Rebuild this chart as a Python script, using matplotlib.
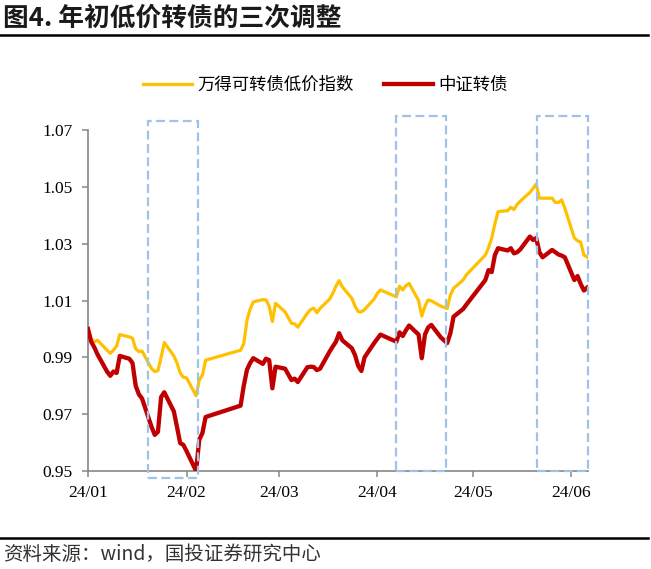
import pandas as pd
import matplotlib
matplotlib.use('Agg')
import matplotlib.pyplot as plt
import matplotlib.dates as mdates
from matplotlib.patches import Rectangle
from matplotlib.lines import Line2D

# ===========================
# --- 数据区域 ---
# ===========================
DATES = [
    '2024-01-02', '2024-01-03', '2024-01-04', '2024-01-05', '2024-01-08', '2024-01-09',
    '2024-01-10', '2024-01-11', '2024-01-12', '2024-01-15', '2024-01-16', '2024-01-17',
    '2024-01-18', '2024-01-19', '2024-01-22', '2024-01-23', '2024-01-24', '2024-01-25',
    '2024-01-26', '2024-01-29', '2024-01-30', '2024-01-31', '2024-02-01', '2024-02-02',
    '2024-02-05', '2024-02-06', '2024-02-07', '2024-02-08', '2024-02-19', '2024-02-20',
    '2024-02-21', '2024-02-22', '2024-02-23', '2024-02-26', '2024-02-27', '2024-02-28',
    '2024-02-29', '2024-03-01', '2024-03-04', '2024-03-05', '2024-03-06', '2024-03-07',
    '2024-03-08', '2024-03-11', '2024-03-12', '2024-03-13', '2024-03-14', '2024-03-15',
    '2024-03-18', '2024-03-19', '2024-03-20', '2024-03-21', '2024-03-22', '2024-03-25',
    '2024-03-26', '2024-03-27', '2024-03-28', '2024-03-29', '2024-04-01', '2024-04-02',
    '2024-04-03', '2024-04-08', '2024-04-09', '2024-04-10', '2024-04-11', '2024-04-12',
    '2024-04-15', '2024-04-16', '2024-04-17', '2024-04-18', '2024-04-19', '2024-04-22',
    '2024-04-23', '2024-04-24', '2024-04-25', '2024-04-26', '2024-04-29', '2024-04-30',
    '2024-05-06', '2024-05-07', '2024-05-08', '2024-05-09', '2024-05-10', '2024-05-13',
    '2024-05-14', '2024-05-15', '2024-05-16', '2024-05-17', '2024-05-20', '2024-05-21',
    '2024-05-22', '2024-05-23', '2024-05-24', '2024-05-27', '2024-05-28', '2024-05-29',
    '2024-05-30', '2024-05-31', '2024-06-03', '2024-06-04', '2024-06-05', '2024-06-06',
    '2024-06-07',
]

# 万得可转债低价指数 (归一化)
LOW_PRICE = [
    1.000, 0.9965, 0.9955, 0.996, 0.9925, 0.9914,
    0.9925, 0.994, 0.998, 0.9972, 0.9967, 0.993,
    0.992, 0.9922, 0.986, 0.985, 0.9853, 0.990,
    0.9952, 0.9905, 0.988, 0.9845, 0.983, 0.9828,
    0.9765, 0.982, 0.9838, 0.989, 0.9925, 0.9948,
    1.003, 1.007, 1.0095, 1.0103, 1.0102, 1.008,
    1.0026, 1.009, 1.006, 1.004, 1.002, 1.0018,
    1.0006, 1.0055, 1.0068, 1.0073, 1.0057, 1.0072,
    1.0105, 1.0125, 1.015, 1.017, 1.0148, 1.0108,
    1.008, 1.0061, 1.006, 1.0068, 1.0105, 1.0125,
    1.0137, 1.0113, 1.015, 1.0137, 1.0152, 1.016,
    1.010, 1.0045, 1.008, 1.0102, 1.0099, 1.008,
    1.0076, 1.0072, 1.0119, 1.0143, 1.0172, 1.019,
    1.026, 1.0285, 1.032, 1.037, 1.0413, 1.0416,
    1.0428, 1.042, 1.0438, 1.045, 1.048, 1.0495,
    1.051, 1.046, 1.046, 1.046, 1.0445, 1.0445,
    1.0454, 1.0425, 1.032, 1.031, 1.0305, 1.026,
    1.0253,
]

# 中证转债 (归一化)
CSI_CB = [
    1.000, 0.9955, 0.9935, 0.991, 0.985, 0.9835,
    0.985, 0.9845, 0.9905, 0.9895, 0.988, 0.980,
    0.977, 0.9755, 0.9655, 0.9627, 0.9638, 0.976,
    0.9777, 0.971, 0.9655, 0.9598, 0.9592, 0.957,
    0.950, 0.961, 0.9634, 0.969, 0.973, 0.980,
    0.9856, 0.988, 0.9897, 0.9877, 0.9895, 0.989,
    0.9791, 0.9867, 0.986, 0.984, 0.982, 0.9825,
    0.9813, 0.9865, 0.9867, 0.9866, 0.9855, 0.986,
    0.992, 0.9938, 0.9955, 0.9985, 0.996, 0.9932,
    0.9908, 0.987, 0.9852, 0.990, 0.995, 0.9965,
    0.998, 0.9955, 0.9988, 0.9975, 0.9995, 1.0012,
    0.998, 0.9897, 0.998, 1.0005, 1.0014, 0.997,
    0.996, 0.995, 0.9985, 1.0043, 1.007, 1.0085,
    1.0172, 1.0207, 1.020, 1.026, 1.0284, 1.0276,
    1.0284, 1.0266, 1.027, 1.028, 1.0325, 1.0313,
    1.032, 1.027, 1.0252, 1.0278, 1.027, 1.0262,
    1.0258, 1.0252, 1.0172, 1.0186, 1.0158, 1.0135,
    1.0145,
]

SERIES_NAMES = ['万得可转债低价指数', '中证转债']

# 三次调整区间 (虚线框)
ADJ_START = ['2024-01-20 22:00', '2024-04-07 22:00', '2024-05-22 07:00']
ADJ_END = ['2024-02-05 14:00', '2024-04-23 14:00', '2024-06-07 07:00']
ADJ_LOW = [0.9475, 0.950, 0.950]
ADJ_HIGH = [1.0732, 1.0749, 1.0749]

TICK_DATES = ['2024-01-02', '2024-02-02', '2024-03-02', '2024-04-02', '2024-05-02', '2024-06-02']
TICK_LABELS = ['24/01', '24/02', '24/03', '24/04', '24/05', '24/06']
Y_TICKS = [0.95, 0.97, 0.99, 1.01, 1.03, 1.05, 1.07]

TITLE = '图4. 年初低价转债的三次调整'
SOURCE = '资料来源：wind，国投证券研究中心'

# ===========================
# --- 绘图 ---
# ===========================
CJK = ['Noto Sans CJK SC', 'DejaVu Sans']
SERIF = ['Liberation Serif', 'DejaVu Serif']
plt.rcParams['font.family'] = SERIF  # 刻度数字用 Times 风格

W, H = 651, 569
fig = plt.figure(figsize=(W / 100, H / 100), dpi=100)
ax = fig.add_axes([88 / W, 98 / H, 500 / W, 341 / H])

x = pd.to_datetime(DATES)
ax.plot(x, LOW_PRICE, color='#FFC000', lw=2.3, label=SERIES_NAMES[0], zorder=3)
ax.plot(x, CSI_CB, color='#C00000', lw=3.1, label=SERIES_NAMES[1], zorder=4)

# 虚线框
for s, e, lo, hi in zip(ADJ_START, ADJ_END, ADJ_LOW, ADJ_HIGH):
    x0 = mdates.date2num(pd.Timestamp(s))
    x1 = mdates.date2num(pd.Timestamp(e))
    rect = Rectangle((x0, lo), x1 - x0, hi - lo, fill=False, edgecolor='#9DC3E6',
                     lw=1.6, linestyle=(0, (4, 2)), clip_on=False, zorder=5)
    ax.add_patch(rect)

ax.set_xlim(pd.Timestamp(DATES[0]), pd.Timestamp('2024-06-07 07:00'))
ax.set_ylim(Y_TICKS[0], Y_TICKS[-1])

ax.set_xticks(pd.to_datetime(TICK_DATES))
ax.set_xticklabels(TICK_LABELS, fontsize=12.5, family=SERIF)
ax.set_yticks(Y_TICKS)
ax.set_yticklabels([f'{v:.2f}' for v in Y_TICKS], fontsize=12.5, family=SERIF)

ax.tick_params(axis='both', direction='out', length=4, width=1.1, color='#868686',
               labelcolor='black')
ax.tick_params(axis='x', pad=6)
ax.tick_params(axis='y', pad=7)

ax.spines['top'].set_visible(False)
ax.spines['right'].set_visible(False)
for side in ['left', 'bottom']:
    ax.spines[side].set_color('#868686')
    ax.spines[side].set_linewidth(1.2)
ax.grid(False)

# 图例
fig.legend(loc='center left', bbox_to_anchor=(143 / W, 1 - 85 / H), ncol=2, frameon=False,
           prop={'family': CJK, 'size': 12.5}, handlelength=2.85, handletextpad=0.3,
           columnspacing=1.7, borderaxespad=0, borderpad=0)

# 标题与来源
fig.text(3 / W, 1 - 18 / H, TITLE, family=CJK, fontsize=18.5, fontweight='bold',
         ha='left', va='center', color='#1a1a1a')
fig.add_artist(Line2D([0, 648 / W], [1 - 35 / H, 1 - 35 / H], color='black', lw=1.8))
fig.add_artist(Line2D([0, 648 / W], [1 - 537.5 / H, 1 - 537.5 / H], color='black', lw=1.8))
fig.text(3 / W, 1 - 554 / H, SOURCE, family=CJK, fontsize=14,
         ha='left', va='center', color='#333333')

fig.savefig('out.png', dpi=100)
